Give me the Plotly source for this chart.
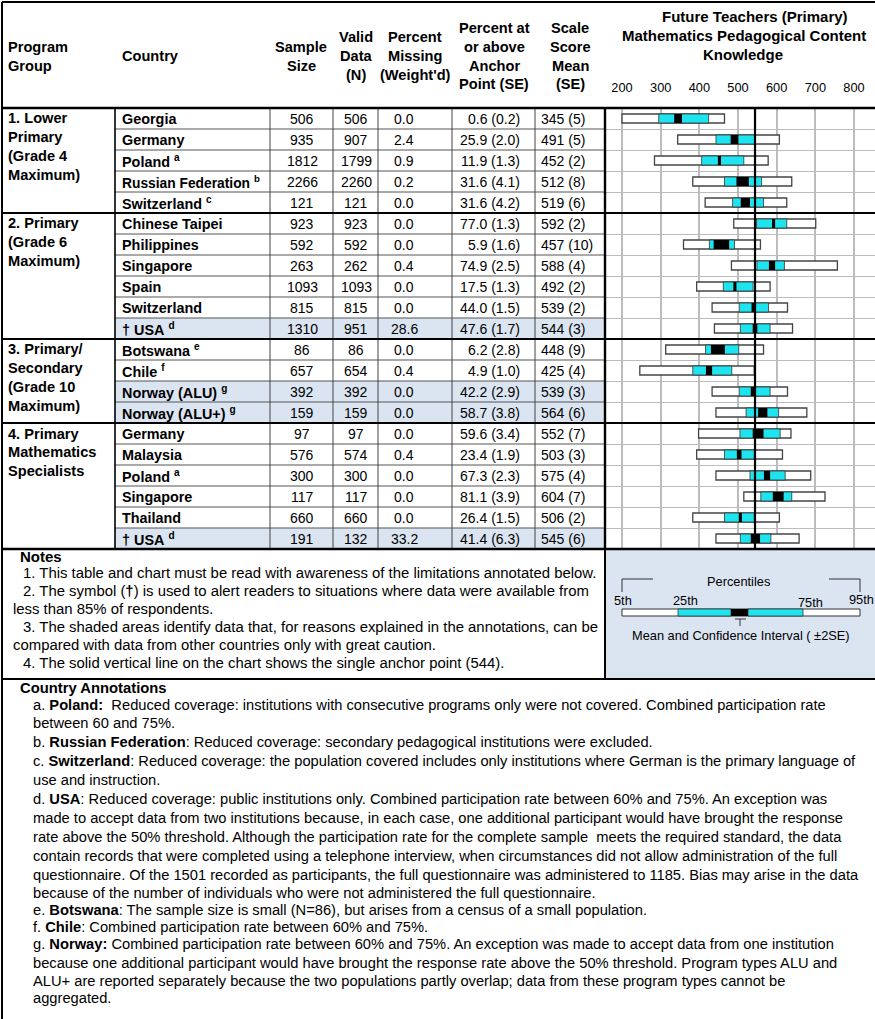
import plotly.graph_objects as go

# ---------------- data ----------------
program_groups = [
    ["1. Lower", "Primary", "(Grade 4", "Maximum)"],
    ["2. Primary", "(Grade 6", "Maximum)"],
    ["3. Primary/", "Secondary", "(Grade 10", "Maximum)"],
    ["4. Primary", "Mathematics", "Specialists"],
]
group_start_rows = [0, 5, 11, 15]

countries = ["Georgia", "Germany", "Poland", "Russian Federation", "Switzerland",
             "Chinese Taipei", "Philippines", "Singapore", "Spain", "Switzerland", "† USA",
             "Botswana", "Chile", "Norway (ALU)", "Norway (ALU+)",
             "Germany", "Malaysia", "Poland", "Singapore", "Thailand", "† USA"]
footnotes = ["", "", "a", "b", "c",
             "", "", "", "", "", "d",
             "e", "f", "g", "g",
             "", "", "a", "", "", "d"]
shaded_rows = [10, 13, 14, 20]

sample_size = [506, 935, 1812, 2266, 121, 923, 592, 263, 1093, 815, 1310,
               86, 657, 392, 159, 97, 576, 300, 117, 660, 191]
valid_n = [506, 907, 1799, 2260, 121, 923, 592, 262, 1093, 815, 951,
           86, 654, 392, 159, 97, 574, 300, 117, 660, 132]
pct_missing = [0.0, 2.4, 0.9, 0.2, 0.0, 0.0, 0.0, 0.4, 0.0, 0.0, 28.6,
               0.0, 0.4, 0.0, 0.0, 0.0, 0.4, 0.0, 0.0, 0.0, 33.2]
pct_anchor = [0.6, 25.9, 11.9, 31.6, 31.6, 77.0, 5.9, 74.9, 17.5, 44.0, 47.6,
              6.2, 4.9, 42.2, 58.7, 59.6, 23.4, 67.3, 81.1, 26.4, 41.4]
pct_anchor_se = [0.2, 2.0, 1.3, 4.1, 4.2, 1.3, 1.6, 2.5, 1.3, 1.5, 1.7,
                 2.8, 1.0, 2.9, 3.8, 3.4, 1.9, 2.3, 3.9, 1.5, 6.3]
score_mean = [345, 491, 452, 512, 519, 592, 457, 588, 492, 539, 544,
              448, 425, 539, 564, 552, 503, 575, 604, 506, 545]
score_se = [5, 5, 2, 8, 6, 2, 10, 4, 2, 2, 3, 9, 4, 3, 6, 7, 3, 4, 7, 2, 6]

# percentiles of the score distribution
p5 = [200, 344, 284, 383, 415, 489, 359, 483, 393, 433, 439,
      313, 246, 433, 443, 398, 393, 443, 515, 383, 443]
p25 = [295, 443, 406, 465, 486, 548, 426, 549, 462, 503, 506,
       416, 383, 503, 521, 505, 465, 531, 559, 465, 506]
p75 = [424, 544, 515, 561, 566, 626, 491, 620, 539, 579, 583,
       502, 484, 583, 605, 609, 542, 622, 639, 542, 585]
p95 = [465, 607, 578, 639, 626, 701, 558, 757, 583, 628, 641,
       566, 542, 628, 678, 637, 615, 688, 725, 607, 658]

anchor_point = 544
scale_ticks = [200, 300, 400, 500, 600, 700, 800]

chart_title = ["Future Teachers (Primary)", "Mathematics Pedagogical Content", "Knowledge"]

notes_lines = [
    (22, "1. This table and chart must be read with awareness of the limitations annotated below."),
    (22, "2. The symbol (<b>†</b>) is used to alert readers to situations where data were available from"),
    (12, "less than 85% of respondents."),
    (22, "3. The shaded areas identify data that, for reasons explained in the annotations, can be"),
    (12, "compared with data from other countries only with great caution."),
    (22, "4. The solid vertical line on the chart shows the single anchor point (544)."),
]

annotation_lines = [
    "a. <b>Poland:</b>  Reduced coverage: institutions with consecutive programs only were not covered. Combined participation rate",
    "between 60 and 75%.",
    "b. <b>Russian Federation</b>: Reduced coverage: secondary pedagogical institutions were excluded.",
    "c. <b>Switzerland</b>: Reduced coverage: the population covered includes only institutions where German is the primary language of",
    "use and instruction.",
    "d. <b>USA</b>: Reduced coverage: public institutions only. Combined participation rate between 60% and 75%. An exception was",
    "made to accept data from two institutions because, in each case, one additional participant would have brought the response",
    "rate above the 50% threshold. Although the participation rate for the complete sample  meets the required standard, the data",
    "contain records that were completed using a telephone interview, when circumstances did not allow administration of the full",
    "questionnaire. Of the 1501 recorded as participants, the full questionnaire was administered to 1185. Bias may arise in the data",
    "because of the number of individuals who were not administered the full questionnaire.",
    "e. <b>Botswana</b>: The sample size is small (N=86), but arises from a census of a small population.",
    "f. <b>Chile</b>: Combined participation rate between 60% and 75%.",
    "g. <b>Norway:</b> Combined participation rate between 60% and 75%. An exception was made to accept data from one institution",
    "because one additional participant would have brought the response rate above the 50% threshold. Program types ALU and",
    "ALU+ are reported separately because the two populations partly overlap; data from these program types cannot be",
    "aggregated.",
]
annotation_y = [705, 723, 742, 761, 780, 799, 818, 837, 856, 875, 893, 910, 927, 944, 963, 981, 998]

# ---------------- layout helpers ----------------
W, H = 875, 1019
FONT = "Liberation Sans, Arial, sans-serif"
CYAN = "#1ee4f0"
SHADE = "#dbe5f1"
TOP, ROW_H = 108, 21
n_rows = len(countries)
BOTTOM = TOP + ROW_H * n_rows
CHART_L = 605
HEAD_SIZE = 14.6
BODY_SIZE = 14


def px(x):
    return x / W


def py(y):
    return 1 - y / H


annotations = []
shapes = []


def text(x, y, s, size=BODY_SIZE, bold=False, xanchor="left", family=FONT):
    annotations.append(dict(
        x=px(x), y=py(y), xref="paper", yref="paper",
        text=f"<b>{s}</b>" if bold else s, showarrow=False,
        xanchor=xanchor, yanchor="middle", borderpad=0,
        font=dict(size=size, family=family, color="black")))


def line(x0, y0, x1, y1, width=1.0, color="black"):
    shapes.append(dict(type="line", xref="paper", yref="paper",
                       x0=px(x0), y0=py(y0), x1=px(x1), y1=py(y1),
                       line=dict(color=color, width=width), layer="above"))


def rect(x0, y0, x1, y1, fill, lw=0, lc="black", layer="below"):
    shapes.append(dict(type="rect", xref="paper", yref="paper",
                       x0=px(x0), y0=py(y0), x1=px(x1), y1=py(y1),
                       fillcolor=fill, line=dict(color=lc, width=lw), layer=layer))


# ---------------- header ----------------
text(7, 47, "Program", size=HEAD_SIZE, bold=True)
text(7, 66, "Group", size=HEAD_SIZE, bold=True)
text(121, 56, "Country", size=HEAD_SIZE, bold=True)
for x, rows in [(301, [(47, "Sample"), (66, "Size")]),
                (356, [(37, "Valid"), (56, "Data"), (75, "(N)")]),
                (415, [(37, "Percent"), (56, "Missing"), (75, "(Weight'd)")]),
                (494, [(28, "Percent at"), (47, "or above"), (66, "Anchor"), (84, "Point (SE)")]),
                (570, [(28, "Scale"), (47, "Score"), (66, "Mean"), (84, "(SE)")])]:
    for y, s in rows:
        text(x, y, s, size=HEAD_SIZE, bold=True, xanchor="center")
for (x, y), s in zip([(755, 17), (744, 36), (743, 55)], chart_title):
    text(x, y, s, size=15, bold=True, xanchor="center")

# ---------------- table body ----------------
for i in shaded_rows:
    rect(115, TOP + ROW_H * i, CHART_L, TOP + ROW_H * (i + 1), SHADE)

for i in range(n_rows):
    yc = TOP + ROW_H * i + ROW_H / 2 + 0.5
    name = f"<b>{countries[i]}</b>"
    if footnotes[i]:
        name += f" <sup><b>{footnotes[i]}</b></sup>"
    text(121, yc, name, size=14.4 if len(countries[i]) < 15 else 13.8)
    text(302, yc, str(sample_size[i]), xanchor="center")
    text(356, yc, str(valid_n[i]), xanchor="center")
    text(404, yc, f"{pct_missing[i]:.1f}", xanchor="center")
    text(521, yc, f"{pct_anchor[i]:.1f} ({pct_anchor_se[i]:.1f})", xanchor="right")
    text(540, yc, f"{score_mean[i]} ({score_se[i]})")

for lines, r0 in zip(program_groups, group_start_rows):
    for k, s in enumerate(lines):
        text(7, TOP + ROW_H * r0 + 10.5 + 18.7 * k, s, size=HEAD_SIZE, bold=True)

# row separators inside the table
for i in range(1, n_rows):
    if i not in group_start_rows:
        line(115, TOP + ROW_H * i, CHART_L, TOP + ROW_H * i, width=1, color="#555555")
# column separators
for x in [270, 333, 378, 452, 535]:
    line(x, TOP, x, BOTTOM, width=1, color="#444444")
line(115, TOP, 115, BOTTOM, width=1.6)
line(CHART_L, TOP, CHART_L, BOTTOM, width=2.4)
# group separators and frame
for r in group_start_rows[1:]:
    line(2, TOP + ROW_H * r, W, TOP + ROW_H * r, width=2)
line(2, 2, W, 2, width=2)
line(2, TOP, W, TOP, width=2.4)
line(2, BOTTOM, W, BOTTOM, width=2.4)
line(2, 2, 2, H, width=2)

# ---------------- notes ----------------
NOTES_BOTTOM = 679
rect(CHART_L, BOTTOM, W, NOTES_BOTTOM, SHADE)
line(CHART_L, BOTTOM, CHART_L, NOTES_BOTTOM, width=2)
line(2, NOTES_BOTTOM, W, NOTES_BOTTOM, width=2)
text(19, 556, "Notes", size=15, bold=True)
for (x, s), y in zip(notes_lines, [573, 591, 609, 627, 645, 663]):
    text(x, y, s, size=14.9)

# percentile key
line(622, 579, 653, 579, color="#333333")
line(622, 579, 622, 592, color="#333333")
line(829, 579, 860, 579, color="#333333")
line(860, 579, 860, 592, color="#333333")
text(738, 581, "Percentiles", size=12.8, xanchor="center")
for x, y, s in [(623, 600, "5th"), (685, 600, "25th"), (810, 602, "75th"), (861, 599, "95th")]:
    text(x, y, s, size=12.8, xanchor="center")
rect(622, 609, 860, 616, "white", lw=1, lc="#333333", layer="above")
rect(678, 609, 731, 616, CYAN, lw=0.8, lc="#333333", layer="above")
rect(748, 609, 803, 616, CYAN, lw=0.8, lc="#333333", layer="above")
rect(731, 609, 748, 616, "black", layer="above")
line(740, 619, 740, 626, color="#333333")
line(735, 619, 746, 619, color="#333333")
text(741, 635, "Mean and Confidence Interval ( ±2SE)", size=12.8, xanchor="center")

# ---------------- country annotations ----------------
text(19, 688, "Country Annotations", size=14.8, bold=True)
for s, y in zip(annotation_lines, annotation_y):
    text(32, y, s, size=14.7)

# ---------------- chart ----------------
rows = list(range(n_rows))
fig = go.Figure()
fig.add_trace(go.Bar(
    y=rows, base=p5, x=[b - a for a, b in zip(p5, p95)], orientation="h", width=0.43,
    marker=dict(color="white", line=dict(color="#444444", width=1.3)), hoverinfo="skip"))
fig.add_trace(go.Bar(
    y=rows, base=p25, x=[b - a for a, b in zip(p25, p75)], orientation="h", width=0.43,
    marker=dict(color=CYAN, line=dict(color="#333333", width=0.8)), hoverinfo="skip"))
fig.add_trace(go.Bar(
    y=rows, base=[m - 2 * s for m, s in zip(score_mean, score_se)],
    x=[4 * s for s in score_se], orientation="h", width=0.43,
    marker=dict(color="black", line=dict(width=0)), hoverinfo="skip"))

shapes.append(dict(type="line", xref="x", yref="y domain", x0=anchor_point, x1=anchor_point,
                   y0=0, y1=1, line=dict(color="black", width=2.2), layer="above"))

fig.update_layout(
    width=W, height=H, margin=dict(l=0, r=0, t=0, b=0),
    paper_bgcolor="white", plot_bgcolor="white",
    barmode="overlay", showlegend=False, hovermode=False,
    annotations=annotations, shapes=shapes,
    xaxis=dict(domain=[px(CHART_L), 1], range=[156, 854.3], side="top",
               tickvals=scale_ticks, ticktext=[str(t) for t in scale_ticks],
               showgrid=True, gridcolor="#bcbcbc", gridwidth=1.5, zeroline=False,
               ticks="", ticklabelstandoff=12,
               tickfont=dict(family=FONT, size=12.8, color="black"), fixedrange=True),
    yaxis=dict(domain=[py(BOTTOM), py(TOP)], range=[n_rows - 0.5, -0.5],
               tickvals=[i + 0.5 for i in range(n_rows - 1)], showticklabels=False,
               showgrid=True, gridcolor="#bcbcbc", gridwidth=1, zeroline=False,
               ticks="", fixedrange=True),
)

fig.write_html("out.html", config={"displayModeBar": False})
